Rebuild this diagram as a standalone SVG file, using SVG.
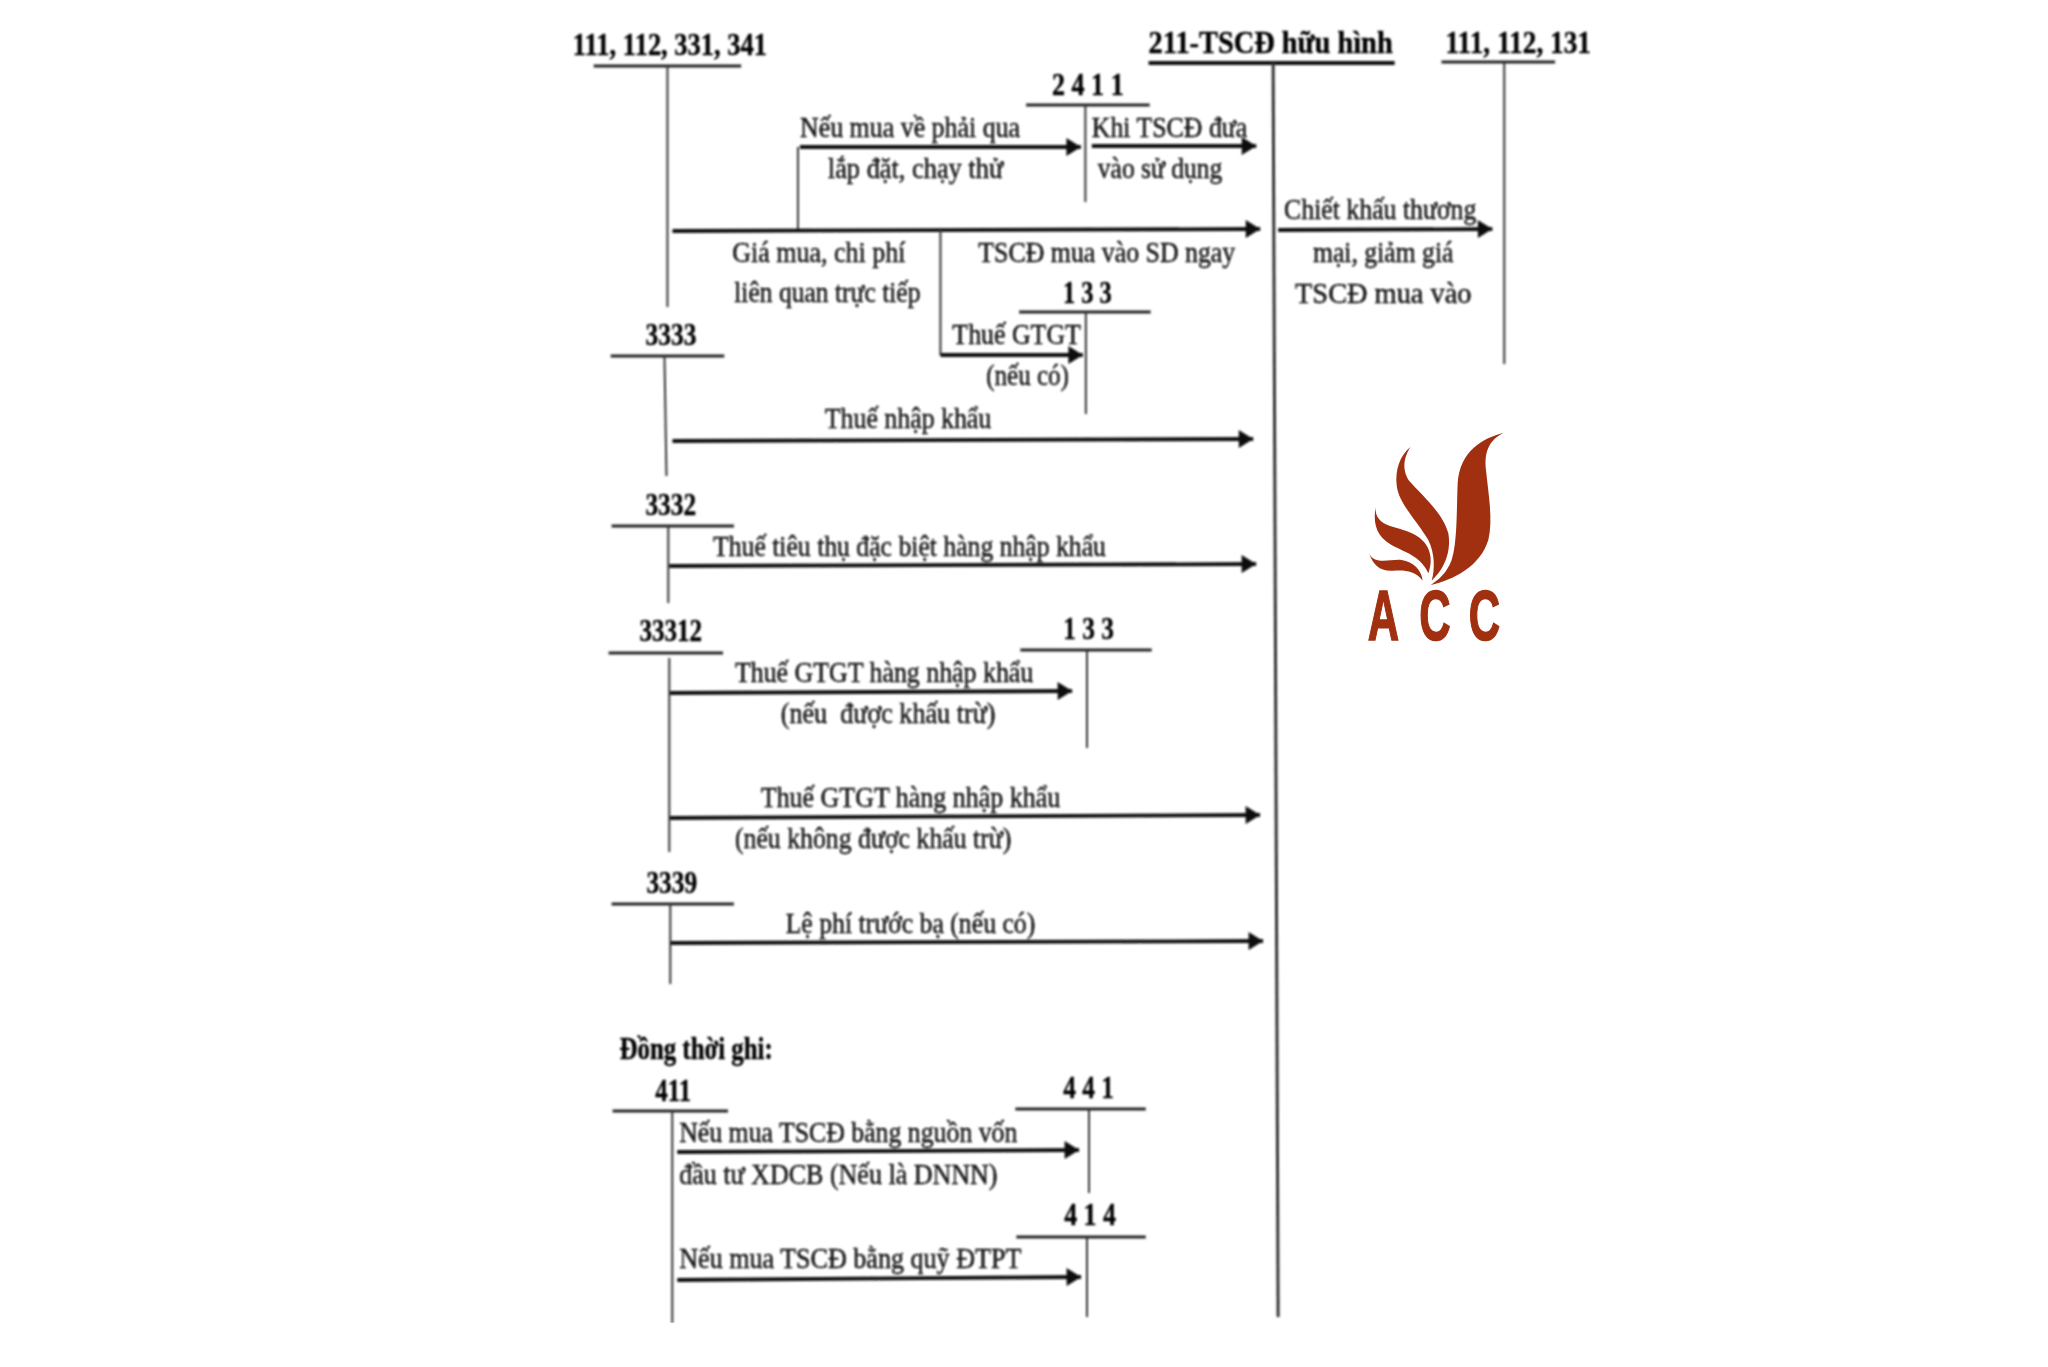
<svg xmlns="http://www.w3.org/2000/svg" width="2048" height="1367" viewBox="0 0 2048 1367">
<style>
text{font-family:"Liberation Serif","Times New Roman",serif;fill:#0c0c0c;font-size:29px;stroke:#0c0c0c;stroke-width:.4}
.b{font-weight:700;font-size:31px;fill:#000}
.h{stroke:#222;stroke-width:3;fill:none}
.hh{stroke:#111;stroke-width:4;fill:none}
.v{stroke:#333;stroke-width:2;fill:none}
.a{stroke:#111;stroke-width:3.8;fill:none;marker-end:url(#ah)}
.l{fill:#a03010}
.acc{font-family:"Liberation Sans",Arial,sans-serif;font-weight:700;font-size:70px;fill:#a03010;stroke:#a03010;stroke-width:1.5}
.up{transform:matrix(.9962,0,0,1,0,0)}
.lo{transform:matrix(.9946,0,0,1,2.9,0)}
</style>
<defs>
<marker id="ah" markerUnits="userSpaceOnUse" markerWidth="17" markerHeight="20" refX="15" refY="9.500" orient="auto"><path d="M0.500,0.500 L15,9.500 L0.500,18.500Z" fill="#0c0c0c"/></marker>
<filter id="sc" x="0" y="0" width="1" height="1" filterUnits="objectBoundingBox"><feGaussianBlur stdDeviation="0.8"/></filter>
</defs>
<rect width="2048" height="1367" fill="#fff"/>
<g filter="url(#sc)">
<g id="connectors">
<g id="connectors-upper" class="up">
<path class="a" d="M803,147H1085"/>
<path class="a" d="M1096,146H1261"/>
<path class="v" d="M801,147V230"/>
<path class="a" d="M675,231L1265,229"/>
<path class="a" d="M1283,230L1498,229"/>
<path class="v" d="M944,230V355"/>
<path class="a" d="M944,355H1087"/>
<path class="a" d="M675,441L1258,439"/>
<text x="803" y="137" textLength="221" lengthAdjust="spacingAndGlyphs">Nếu mua về phải qua</text>
<text x="831" y="178" textLength="176" lengthAdjust="spacingAndGlyphs">lắp đặt, chạy thử</text>
<text x="1096" y="137" textLength="156" lengthAdjust="spacingAndGlyphs">Khi TSCĐ đưa</text>
<text x="1102" y="178" textLength="125" lengthAdjust="spacingAndGlyphs">vào sử dụng</text>
<text x="1289" y="219" textLength="193" lengthAdjust="spacingAndGlyphs">Chiết khấu thương</text>
<text x="1318" y="262" textLength="141" lengthAdjust="spacingAndGlyphs">mại, giảm giá</text>
<text x="1300" y="303" textLength="177" lengthAdjust="spacingAndGlyphs">TSCĐ mua vào</text>
<text x="735" y="262" textLength="174" lengthAdjust="spacingAndGlyphs">Giá mua, chi phí</text>
<text x="737" y="302" textLength="187" lengthAdjust="spacingAndGlyphs">liên quan trực tiếp</text>
<text x="982" y="262" textLength="258" lengthAdjust="spacingAndGlyphs">TSCĐ mua vào SD ngay</text>
<text x="956" y="344" textLength="129" lengthAdjust="spacingAndGlyphs">Thuế GTGT</text>
<text x="990" y="385" textLength="83" lengthAdjust="spacingAndGlyphs">(nếu có)</text>
<text x="828" y="428" textLength="167" lengthAdjust="spacingAndGlyphs">Thuế nhập khẩu</text>
</g>
<g id="connectors-lower" class="lo">
<path class="a" d="M670,566L1260,564"/>
<path class="a" d="M670,693L1075,691"/>
<path class="a" d="M670,818L1264,815"/>
<path class="a" d="M671,943L1267,941"/>
<path class="a" d="M678,1152L1082,1150"/>
<path class="a" d="M678,1280L1084,1277"/>
<text x="714" y="556" textLength="395" lengthAdjust="spacingAndGlyphs">Thuế tiêu thụ đặc biệt hàng nhập khẩu</text>
<text x="736" y="682" textLength="300" lengthAdjust="spacingAndGlyphs">Thuế GTGT hàng nhập khẩu</text>
<text x="782" y="723" textLength="216" lengthAdjust="spacingAndGlyphs" xml:space="preserve">(nếu  được khấu trừ)</text>
<text x="762" y="807" textLength="301" lengthAdjust="spacingAndGlyphs">Thuế GTGT hàng nhập khẩu</text>
<text x="736" y="848" textLength="278" lengthAdjust="spacingAndGlyphs">(nếu không được khấu trừ)</text>
<text x="787" y="933" textLength="251" lengthAdjust="spacingAndGlyphs">Lệ phí trước bạ (nếu có)</text>
<text x="680" y="1142" textLength="340" lengthAdjust="spacingAndGlyphs">Nếu mua TSCĐ bằng nguồn vốn</text>
<text x="680" y="1184" textLength="320" lengthAdjust="spacingAndGlyphs">đầu tư XDCB (Nếu là DNNN)</text>
<text x="680" y="1268" textLength="344" lengthAdjust="spacingAndGlyphs">Nếu mua TSCĐ bằng quỹ ĐTPT</text>
</g>
</g>
<g id="acc-111-112-331-341" class="up"><text class="b" x="575" y="55" textLength="195" lengthAdjust="spacingAndGlyphs">111, 112, 331, 341</text><path class="h" d="M596,66H744"/><path class="v" d="M670,66V307"/></g>
<g id="acc-211" class="up"><text class="b" x="1153" y="53" textLength="245" lengthAdjust="spacingAndGlyphs">211-TSCĐ hữu hình</text><path class="hh" d="M1153,63H1400"/><path class="v" style="stroke-width:3;stroke:#333" d="M1278,63L1283,1317"/></g>
<g id="acc-111-112-131" class="up"><text class="b" x="1451" y="53" textLength="146" lengthAdjust="spacingAndGlyphs">111, 112, 131</text><path class="h" d="M1447,62H1561"/><path class="v" d="M1510,62V364"/></g>
<g id="acc-2411" class="up"><text class="b" x="1056" y="95" textLength="72" lengthAdjust="spacingAndGlyphs">2 4 1 1</text><path class="h" d="M1030,105H1154"/><path class="v" d="M1089.500,105V202"/></g>
<g id="acc-133-a" class="up"><text class="b" x="1067" y="303" textLength="49" lengthAdjust="spacingAndGlyphs">1 3 3</text><path class="h" d="M1023,312H1155"/><path class="v" d="M1090,312V414"/></g>
<g id="acc-3333" class="up"><text class="b" x="648" y="345" textLength="51" lengthAdjust="spacingAndGlyphs">3333</text><path class="h" d="M613,356H727"/><path class="v" d="M667,356L669,476"/></g>
<g id="acc-3332" class="lo"><text class="b" x="646" y="515" textLength="51" lengthAdjust="spacingAndGlyphs">3332</text><path class="h" d="M612,526H735"/><path class="v" d="M669,526V603"/></g>
<g id="acc-33312" class="lo"><text class="b" x="640" y="641" textLength="63" lengthAdjust="spacingAndGlyphs">33312</text><path class="h" d="M609,653H724"/><path class="v" d="M670,658V852"/></g>
<g id="acc-133-b" class="lo"><text class="b" x="1066" y="639" textLength="51" lengthAdjust="spacingAndGlyphs">1 3 3</text><path class="h" d="M1023,650H1155"/><path class="v" d="M1090,650V748"/></g>
<g id="acc-3339" class="lo"><text class="b" x="647" y="893" textLength="51" lengthAdjust="spacingAndGlyphs">3339</text><path class="h" d="M612,904H735"/><path class="v" d="M671,904V984"/></g>
<text class="b lo" id="dong-thoi-ghi" x="620" y="1059" textLength="154" lengthAdjust="spacingAndGlyphs">Đồng thời ghi:</text>
<g id="acc-411" class="lo"><text class="b" x="656" y="1101" textLength="36" lengthAdjust="spacingAndGlyphs">411</text><path class="h" d="M613,1111H729"/><path class="v" d="M673,1111V1323"/></g>
<g id="acc-441" class="lo"><text class="b" x="1066" y="1098" textLength="51" lengthAdjust="spacingAndGlyphs">4 4 1</text><path class="h" d="M1018,1109H1149"/><path class="v" d="M1092,1109V1193"/></g>
<g id="acc-414" class="lo"><text class="b" x="1067" y="1225" textLength="52" lengthAdjust="spacingAndGlyphs">4 1 4</text><path class="h" d="M1019,1237H1149"/><path class="v" d="M1090,1237V1317"/></g>
</g>
<g id="logo">
<g transform="translate(1340,410) scale(0.3333)">
<path class="l" d="M490,68C430,85 360,120 353,220C350,300 352,400 335,450C320,490 295,510 272,525C340,510 420,470 445,390C460,330 445,250 438,180C432,120 450,90 490,68Z"/>
<path class="l" d="M212,110C180,135 165,180 170,225C175,280 230,330 265,390C285,430 285,480 275,512C310,480 335,430 325,370C310,310 250,260 210,215C190,190 185,150 212,110Z"/>
<path class="l" d="M107,292C100,330 105,370 140,395C180,425 240,430 265,490C272,470 278,440 262,410C240,370 190,360 150,348C120,338 105,320 107,292Z"/>
<path class="l" d="M88,432C100,465 120,485 160,482C190,480 225,480 248,512C245,480 220,455 185,450C150,447 105,465 88,432Z"/>
</g>
<text class="acc" transform="translate(0,640) scale(0.62,1)" x="2206 2289 2369">ACC</text>
</g>
</svg>
